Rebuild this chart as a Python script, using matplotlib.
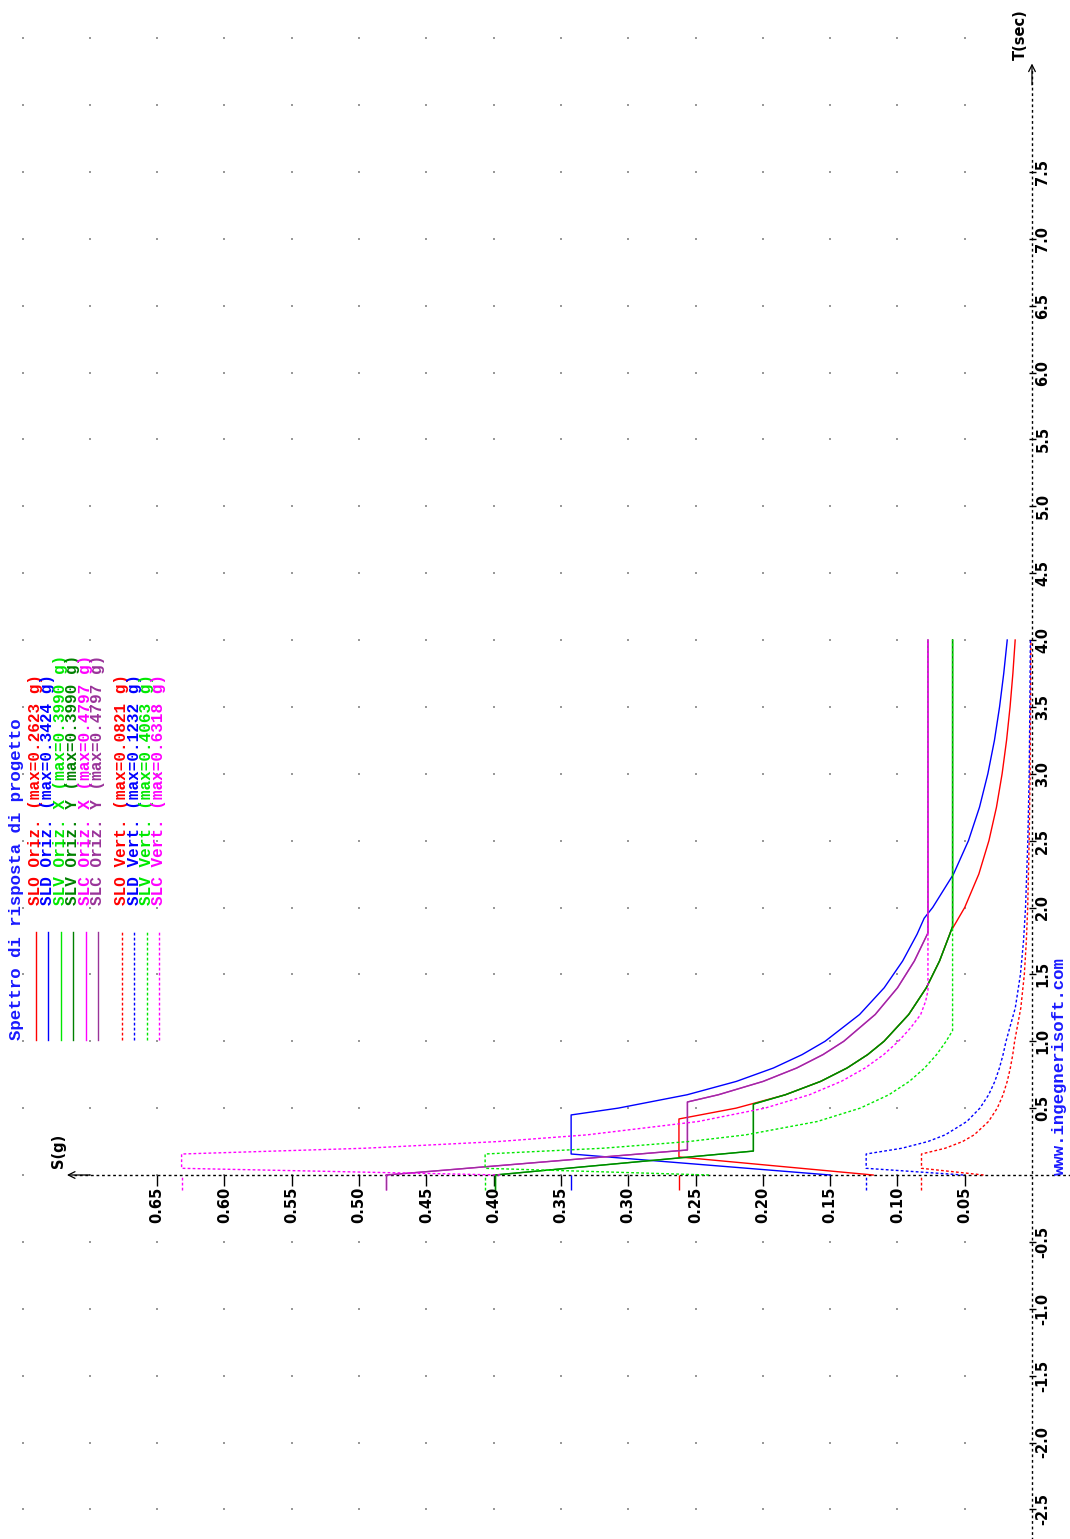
import numpy as np
import matplotlib.pyplot as plt
from matplotlib.lines import Line2D

# --- spectra: period T (sec) and acceleration S (g) ---
# horizontal components
t_slo_h = [0, 0.135, 0.419, 0.5, 0.6, 0.7, 0.8, 0.9, 1.0, 1.2, 1.4, 1.6, 1.82,
           2.0, 2.25, 2.5, 2.75, 3.0, 3.25, 3.5, 3.75, 4.0]
s_slo_h = [0.118, 0.2623, 0.2623, 0.2198, 0.1832, 0.1570, 0.1374, 0.1221, 0.1099,
           0.0916, 0.0785, 0.0687, 0.0604, 0.0500, 0.0395, 0.0320, 0.0264, 0.0222,
           0.0189, 0.0163, 0.0142, 0.0125]

t_sld_h = [0, 0.157, 0.449, 0.5, 0.6, 0.7, 0.8, 0.9, 1.0, 1.2, 1.4, 1.6, 1.8, 1.92,
           2.0, 2.25, 2.5, 2.75, 3.0, 3.25, 3.5, 3.75, 4.0]
s_sld_h = [0.150, 0.3424, 0.3424, 0.3074, 0.2562, 0.2196, 0.1921, 0.1708, 0.1537,
           0.1281, 0.1098, 0.0961, 0.0854, 0.0801, 0.0738, 0.0583, 0.0472, 0.0390,
           0.0328, 0.0279, 0.0241, 0.0210, 0.0184]

t_slv_h = [0, 0.179, 0.53, 0.6, 0.7, 0.8, 0.9, 1.0, 1.2, 1.4, 1.6, 1.8, 1.86, 4.0]
s_slv_h = [0.399, 0.207, 0.207, 0.1832, 0.1570, 0.1374, 0.1221, 0.1099, 0.0916,
           0.0785, 0.0687, 0.0611, 0.059, 0.059]

t_slc_h = [0, 0.187, 0.546, 0.6, 0.7, 0.8, 0.9, 1.0, 1.2, 1.4, 1.6, 1.81, 4.0]
s_slc_h = [0.4797, 0.256, 0.256, 0.2330, 0.1997, 0.1748, 0.1553, 0.1398, 0.1165,
           0.0999, 0.0874, 0.0773, 0.0773]

# vertical components
t_v = [0, 0.05, 0.157, 0.2, 0.25, 0.3, 0.4, 0.5, 0.6, 0.7, 0.8, 0.9, 1.0,
       1.25, 1.5, 1.75, 2.0, 2.5, 3.0, 3.5, 4.0]
s_slo_v = [0.036, 0.0821, 0.0821, 0.0645, 0.0516, 0.0430, 0.0323, 0.0258, 0.0215,
           0.0184, 0.0161, 0.0143, 0.0129, 0.0083, 0.0057, 0.0042, 0.0032, 0.0021,
           0.0014, 0.0011, 0.0008]
s_sld_v = [0.051, 0.1232, 0.1232, 0.0967, 0.0774, 0.0645, 0.0484, 0.0387, 0.0322,
           0.0276, 0.0242, 0.0215, 0.0193, 0.0124, 0.0086, 0.0063, 0.0048, 0.0031,
           0.0021, 0.0016, 0.0012]

t_slv_v = [0, 0.05, 0.157, 0.2, 0.25, 0.3, 0.4, 0.5, 0.6, 0.7, 0.8, 0.9, 1.0, 1.08, 4.0]
s_slv_v = [0.24, 0.4063, 0.4063, 0.319, 0.2552, 0.2127, 0.1595, 0.1276, 0.1063,
           0.0911, 0.0798, 0.0709, 0.0638, 0.059, 0.059]

t_slc_v = [0, 0.05, 0.157, 0.2, 0.25, 0.3, 0.4, 0.5, 0.6, 0.7, 0.8, 0.9, 1.0,
           1.1, 1.2, 1.3, 1.38, 4.0]
s_slc_v = [0.395, 0.6318, 0.6318, 0.496, 0.3968, 0.3307, 0.248, 0.1984, 0.1653,
           0.1417, 0.124, 0.1102, 0.0992, 0.0902, 0.0827, 0.079, 0.0773, 0.0773]

leg_names = ['SLO Oriz.', 'SLD Oriz.', 'SLV Oriz. X', 'SLV Oriz. Y', 'SLC Oriz. X',
             'SLC Oriz. Y', 'SLO Vert.', 'SLD Vert.', 'SLV Vert.', 'SLC Vert.']
leg_max = [0.2623, 0.3424, 0.3990, 0.3990, 0.4797, 0.4797, 0.0821, 0.1232, 0.4063, 0.6318]

s_ticks = [0.05, 0.10, 0.15, 0.20, 0.25, 0.30, 0.35, 0.40, 0.45, 0.50, 0.55, 0.60, 0.65]
t_ticks = [-2.5, -2.0, -1.5, -1.0, -0.5, 0.5, 1.0, 1.5, 2.0, 2.5, 3.0, 3.5,
           4.0, 4.5, 5.0, 5.5, 6.0, 6.5, 7.0, 7.5]

RED, BLUE, GREEN, DGREEN, MAG, PURP = '#ff0000', '#0000ff', '#00e800', '#008000', '#ff00ff', '#993399'
DOT = (0, (2, 1.6))

series = [
    (t_slo_h, s_slo_h, RED, '-'),
    (t_sld_h, s_sld_h, BLUE, '-'),
    (t_slv_h, s_slv_h, GREEN, '-'),
    (t_slv_h, s_slv_h, DGREEN, '-'),
    (t_slc_h, s_slc_h, MAG, '-'),
    (t_slc_h, s_slc_h, PURP, '-'),
    (t_v, s_slo_v, RED, DOT),
    (t_v, s_sld_v, BLUE, DOT),
    (t_slv_v, s_slv_v, GREEN, DOT),
    (t_slc_v, s_slc_v, MAG, DOT),
]

W, H = 1070, 1539
fig = plt.figure(figsize=(W / 100, H / 100), dpi=100)
ax = fig.add_axes([0, 0, 1, 1])
# chart is drawn rotated: S runs leftwards, T runs upwards
ax.set_xlim(1032 / 1346, -38 / 1346)
ax.set_ylim(-364 / 133.75, 1175 / 133.75)
ax.axis('off')

# dotted background grid
gs, gt = np.meshgrid(np.arange(1, 16) * 0.05, np.arange(-5, 18) * 0.5)
ax.scatter(gs.ravel(), gt.ravel(), s=1.0, c='#999999', marker='s', linewidths=0)

# axes
ax.plot([-0.03, 0.712], [0, 0], color='black', lw=1, ls=(0, (2, 2)))
ax.plot([0, 0], [-2.75, 8.27], color='black', lw=1, ls=(0, (2, 2)))
ax.annotate('', xy=(0.717, 0), xytext=(0.70, 0),
            arrowprops=dict(arrowstyle='->', lw=0.9, color='black', shrinkA=0, shrinkB=0,
                            mutation_scale=12))
ax.annotate('', xy=(0, 8.31), xytext=(0, 8.15),
            arrowprops=dict(arrowstyle='->', lw=0.9, color='black', shrinkA=0, shrinkB=0,
                            mutation_scale=12))

tick_font = dict(family='DejaVu Sans', weight='bold', fontsize=10.5, color='black')
ax.vlines(s_ticks, -0.08, 0, color='black', lw=1)
for v in s_ticks:
    ax.text(v, -0.09, f'{v:.2f}', rotation=90, ha='center', va='top', **tick_font)
ax.hlines(t_ticks, 0.002, -0.003, color='black', lw=1)
for v in t_ticks:
    ax.text(-0.0025, v, f'{v:.1f}', rotation=90, ha='left', va='center', **tick_font)

ax.text(0.0085, 8.34, 'T(sec)', rotation=90, ha='center', va='bottom',
        family='DejaVu Sans', weight='bold', fontsize=10.5)
ax.text(0.7235, 0.05, 'S(g)', rotation=90, ha='center', va='bottom',
        family='DejaVu Sans', weight='bold', fontsize=10.5)

# spectra
for t, s, c, ls in series:
    ax.plot(s, t, color=c, lw=1.0, ls=ls)

# max markers under the S axis
for (t, s, c, ls), m in zip(series, leg_max):
    ax.vlines(m, -0.11, 0, colors=c, linestyles=ls, lw=1.0)

mono = dict(family='Liberation Mono', weight='bold')
ax.text(-0.0205, 0.0, 'www.ingegnerisoft.com', rotation=90, ha='center', va='bottom',
        color='#1a1aff', fontsize=12.5, **mono)

# legend (pixel layout)
def fx(x):
    return x / W

def fy(y):
    return 1 - y / H

fig.text(fx(17), fy(1040), 'Spettro di risposta di progetto', rotation=90,
         ha='center', va='bottom', color='#1a1aff', fontsize=12.5, **mono)
row_x = [36, 48, 61, 73, 86, 98, 122, 134, 147, 159]
for (t, s, c, ls), name, m, x in zip(series, leg_names, leg_max, row_x):
    fig.add_artist(Line2D([fx(x), fx(x)], [fy(1040), fy(932)], color=c, lw=1.0, ls=ls))
    fig.text(fx(x), fy(905), f'{name} (max={m:.4f} g)', rotation=90,
             ha='center', va='bottom', color=c, fontsize=11.5, **mono)

fig.savefig('out.png', dpi=100)
